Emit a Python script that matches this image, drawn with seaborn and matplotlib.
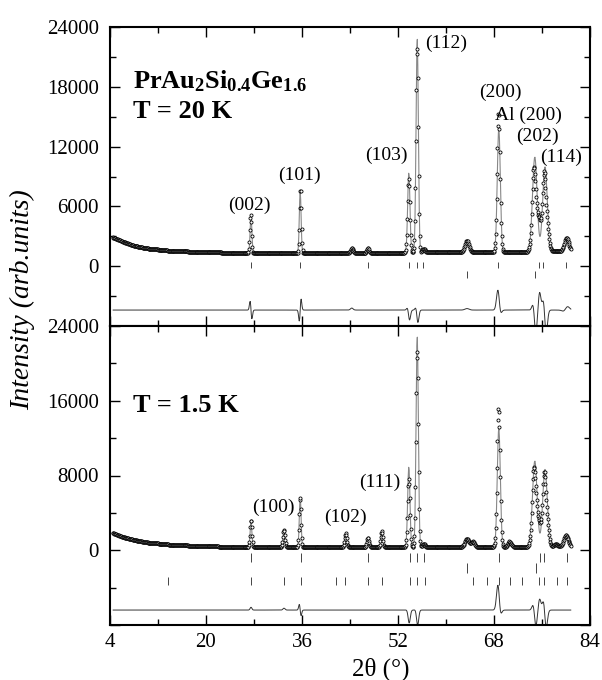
import numpy as np
import pandas as pd
import matplotlib
matplotlib.use("Agg")
import matplotlib.pyplot as plt
import seaborn as sns
from matplotlib.ticker import MultipleLocator, FixedLocator

# ---------------- data ----------------
# background levels (2theta, intensity)
bkg_x = [4.5, 6, 8, 10, 14, 20, 30, 40, 50, 60, 70, 80.8]
bkg_20K = [2900, 2500, 2050, 1800, 1550, 1400, 1300, 1300, 1350, 1400, 1400, 1500]
bkg_15K = [1850, 1450, 1100, 850, 600, 420, 330, 320, 320, 330, 340, 350]

# Bragg peaks at 20 K: position, height above background, FWHM
pk20_pos = [27.5, 35.7, 44.3, 47.0, 53.8, 55.2, 56.3, 63.5, 68.8, 74.8, 76.5, 80.0]
pk20_h = [3600, 6200, 300, 500, 8000, 21500, 400, 1000, 12400, 9500, 8500, 1100]
pk20_w = [0.35, 0.35, 0.5, 0.4, 0.45, 0.45, 0.5, 0.8, 0.6, 0.9, 0.9, 0.9]

# Bragg peaks at 1.5 K
pk15_pos = [27.5, 33.0, 35.7, 43.3, 47.0, 49.3, 53.8, 55.2, 56.3, 63.5, 64.5, 68.8,
            70.6, 74.8, 76.5, 78.3, 80.0]
pk15_h = [2600, 1700, 5300, 1500, 1000, 1700, 8600, 22600, 400, 900, 600, 12700,
          600, 9200, 8300, 300, 1250]
pk15_w = [0.35, 0.4, 0.35, 0.4, 0.4, 0.4, 0.45, 0.45, 0.5, 0.8, 0.7, 0.6,
          0.7, 0.9, 0.9, 0.8, 0.9]

# difference (obs - calc) features: position, symmetric part, antisymmetric part, width
df20_pos = [27.5, 35.7, 44.3, 53.8, 55.2, 63.5, 68.8, 74.8, 75.6, 76.5, 80.0]
df20_g = [0, 0, 200, -700, -900, 150, 1500, -1500, 1800, -1200, 200]
df20_d = [900, -1100, 0, 500, 600, 0, 900, 1200, 0, 1500, -200]
df20_w = [0.35, 0.35, 0.5, 0.45, 0.45, 0.8, 0.6, 0.6, 0.5, 0.6, 0.9]
diff20_offset = -4400

df15_pos = [27.5, 33.0, 35.7, 53.8, 55.2, 68.8, 74.8, 75.6, 76.5]
df15_g = [300, 200, 0, -1300, -1500, 2000, -1000, 1200, -800]
df15_d = [0, 0, 600, 300, 400, 1200, 1000, 0, 1300]
df15_w = [0.35, 0.4, 0.35, 0.45, 0.45, 0.6, 0.6, 0.5, 0.6]
diff15_offset = -6400

# reflection marker positions
tick20_nuc = [27.5, 35.7, 47.0, 53.8, 55.2, 56.2, 68.7, 75.5, 76.2, 80.0]
tick20_al = [63.5, 74.8]
tick15_nuc = [27.5, 35.8, 47.0, 54.0, 55.2, 56.3, 68.8, 75.7, 76.3, 80.1]
tick15_al = [63.5, 75.0]
tick15_mag = [13.7, 27.5, 33.0, 35.8, 41.7, 43.2, 47.0, 49.3, 54.0, 55.2, 56.5,
              64.5, 66.8, 68.8, 70.7, 72.7, 75.5, 76.3, 78.5, 80.1]

labels20 = ["(002)", "(101)", "(103)", "(112)", "(200)", "Al (200)", "(202)", "(114)"]
labels20_x = [27.3, 35.5, 50.0, 60.0, 69.0, 73.7, 75.2, 79.2]
labels20_y = [6100, 9100, 11100, 22400, 17400, 15100, 13000, 10900]
labels15 = ["(100)", "(102)", "(111)"]
labels15_x = [31.3, 43.3, 49.0]
labels15_y = [4600, 3500, 7300]

# ---------------- profile construction ----------------
tt = np.arange(4.5, 80.85, 0.08)


def gauss(x, c, w):
    s = w / 2.3548
    return np.exp(-0.5 * ((x - c) / s) ** 2)


def profile(bx, by, pos, h, w):
    y = np.interp(tt, bx, by)
    for c, a, ww in zip(pos, h, w):
        y = y + a * gauss(tt, c, ww)
    return y


def difference(pos, g, d, w):
    y = np.zeros_like(tt)
    for c, a, b, ww in zip(pos, g, d, w):
        s = ww / 2.3548
        z = (tt - c) / s
        y = y + a * np.exp(-0.5 * z ** 2) - b * 1.6487 * z * np.exp(-0.5 * z ** 2)
    return y


calc20 = profile(bkg_x, bkg_20K, pk20_pos, pk20_h, pk20_w)
calc15 = profile(bkg_x, bkg_15K, pk15_pos, pk15_h, pk15_w)
dif20 = difference(df20_pos, df20_g, df20_d, df20_w)
dif15 = difference(df15_pos, df15_g, df15_d, df15_w)
obs20 = calc20 + dif20
obs15 = calc15 + dif15

d20 = pd.DataFrame({"tt": tt, "obs": obs20, "calc": calc20, "diff": dif20 + diff20_offset})
d15 = pd.DataFrame({"tt": tt, "obs": obs15, "calc": calc15, "diff": dif15 + diff15_offset})

# ---------------- plotting ----------------
sns.set_style("ticks")
plt.rcParams['font.family'] = ['Liberation Serif', 'DejaVu Serif']
plt.rcParams['mathtext.fontset'] = 'custom'
plt.rcParams['mathtext.rm'] = 'Liberation Serif'
plt.rcParams['mathtext.bf'] = 'Liberation Serif:bold'
plt.rcParams['mathtext.it'] = 'Liberation Serif:italic'
for k in ("text.color", "axes.labelcolor", "xtick.color", "ytick.color"):
    plt.rcParams[k] = "black"

fig = plt.figure(figsize=(6.02, 6.80), dpi=100)
gs = fig.add_gridspec(2, 1, left=110 / 602, right=590 / 602, top=1 - 27 / 680,
                      bottom=1 - 625 / 680, hspace=0)
ax1 = fig.add_subplot(gs[0])
ax2 = fig.add_subplot(gs[1], sharex=ax1)


def draw(ax, d, rows):
    sns.lineplot(data=d, x="tt", y="calc", ax=ax, color="#888888", lw=0.8,
                 estimator=None, sort=False)
    sns.scatterplot(data=d, x="tt", y="obs", ax=ax, s=5, marker="o",
                    facecolor="white", edgecolor="black", linewidth=0.6, zorder=3)
    sns.lineplot(data=d, x="tt", y="diff", ax=ax, color="#333333", lw=0.7,
                 estimator=None, sort=False)
    for pos, lo, hi in rows:
        ax.vlines(pos, lo, hi, color="#444444", lw=0.7)


draw(ax1, d20, [(tick20_nuc, -200, 400), (tick20_al, -1200, -500)])
draw(ax2, d15, [(tick15_nuc, -1300, -300), (tick15_al, -2400, -1400),
                (tick15_mag, -3700, -2900)])

ax1.set_ylim(-6000, 24000)
ax1.yaxis.set_major_locator(FixedLocator([-6000, 0, 6000, 12000, 18000, 24000]))
ax1.yaxis.set_minor_locator(MultipleLocator(3000))
ax2.set_ylim(-8000, 24000)
ax2.yaxis.set_major_locator(FixedLocator([-8000, 0, 8000, 16000, 24000]))
ax2.yaxis.set_minor_locator(MultipleLocator(4000))
ax1.set_xlim(4, 84)
ax2.xaxis.set_major_locator(FixedLocator([4, 20, 36, 52, 68, 84]))
ax2.xaxis.set_minor_locator(FixedLocator([12, 28, 44, 60, 76]))


def ylab(v, p):
    return "" if v < 0 else f"{int(v)}"


for ax in (ax1, ax2):
    ax.yaxis.set_major_formatter(matplotlib.ticker.FuncFormatter(ylab))
    ax.tick_params(which="both", direction="in", top=True, right=True, width=1.0,
                   labelsize=15, pad=8, colors="black")
    ax.tick_params(which="major", length=7)
    ax.tick_params(which="minor", length=4)
    for sp in ax.spines.values():
        sp.set_linewidth(1.5)
        sp.set_color("black")
    ax.set_ylabel("")
    ax.set_xlabel("")

plt.setp(ax1.get_xticklabels(), visible=False)
ax2.tick_params(axis="x", pad=6)

for t, x, y in zip(labels20, labels20_x, labels20_y):
    ax1.text(x, y, t, ha="center", va="center", fontsize=14)
for t, x, y in zip(labels15, labels15_x, labels15_y):
    ax2.text(x, y, t, ha="center", va="center", fontsize=14)

ax1.text(7.8, 17800, r"$\mathbf{PrAu_2Si_{0.4}Ge_{1.6}}$", fontsize=19,
         va="baseline", ha="left")
ax1.text(7.8, 14900, "T = 20 K", fontsize=19, fontweight="bold",
         va="baseline", ha="left")
ax2.text(7.8, 14800, "T = 1.5 K", fontsize=19, fontweight="bold",
         va="baseline", ha="left")

fig.text(23 / 602, 1 - 300 / 680, "Intensity (arb.units)", rotation=90,
         ha="center", va="center", fontsize=20, style="italic")
fig.text(381 / 602, 1 - 669 / 680, "2θ (°)", ha="center", va="center", fontsize=18)

fig.savefig("out.png", dpi=100)
